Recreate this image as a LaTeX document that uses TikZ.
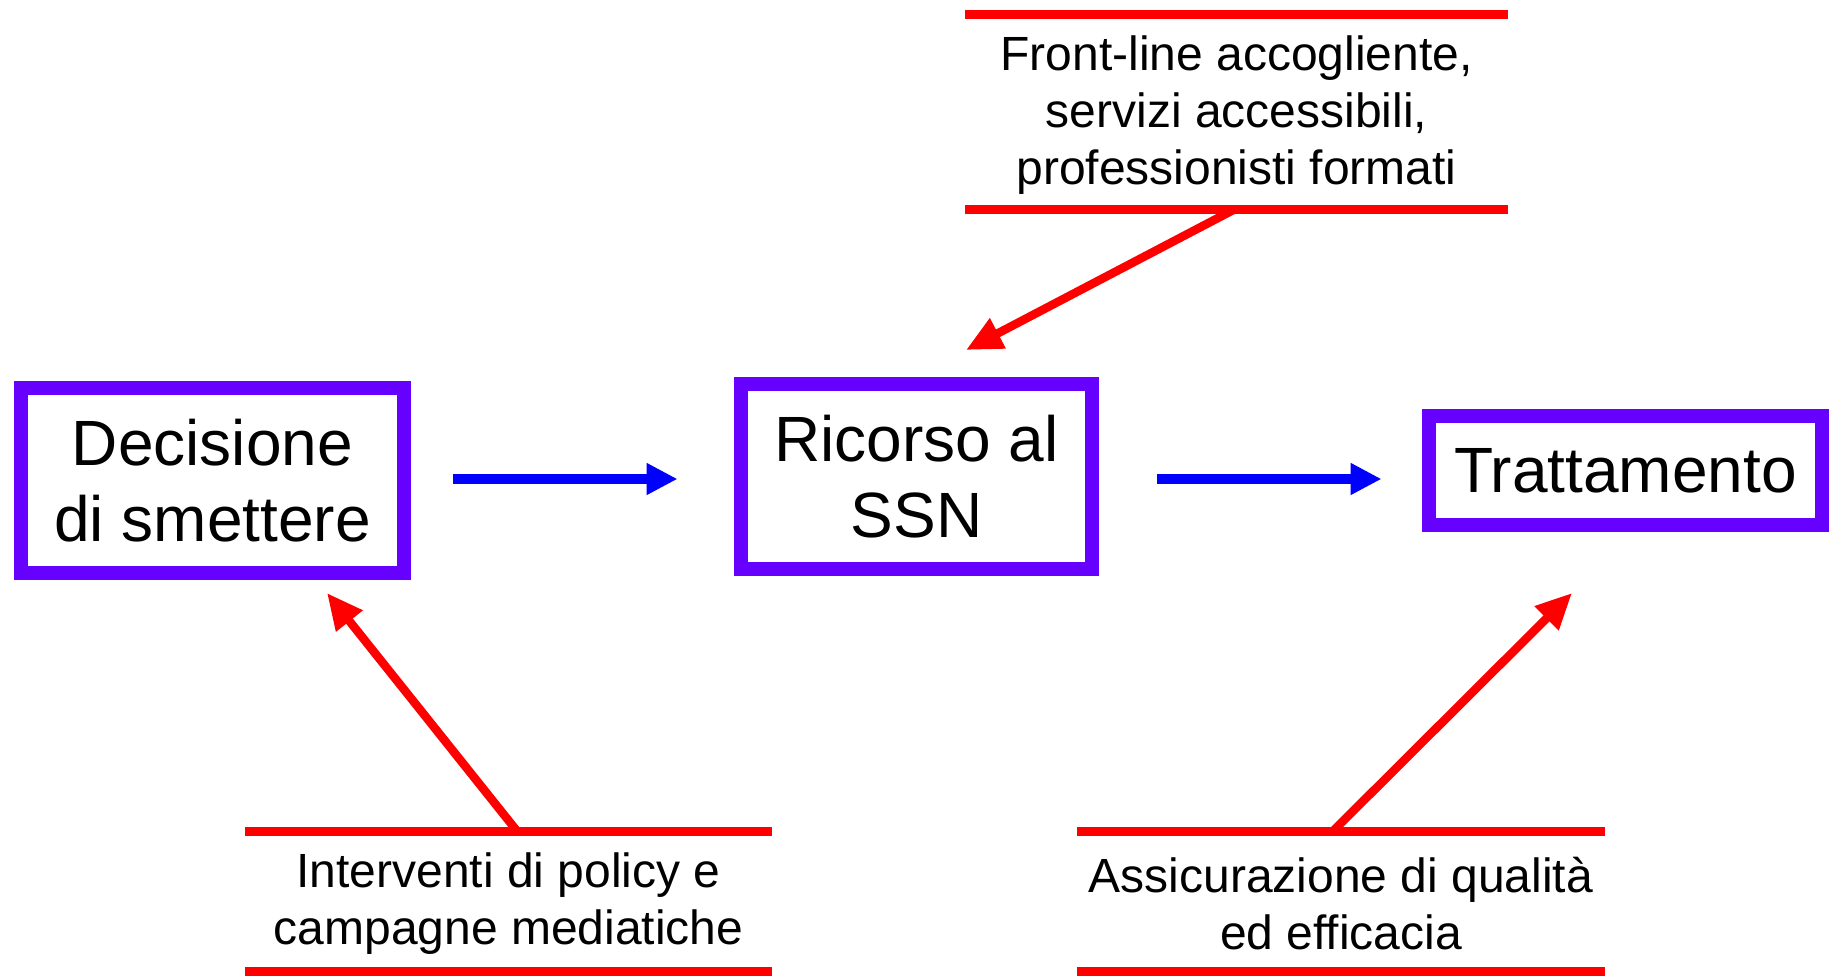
\documentclass[tikz,border=0pt]{standalone}
\usepackage{fontspec}
\setmainfont{Liberation Sans}
\usetikzlibrary{arrows.meta,calc}
\definecolor{boxviolet}{RGB}{102,0,255}
\definecolor{flowblue}{RGB}{0,0,255}
\definecolor{noteRed}{RGB}{255,0,0}

\begin{document}
\begin{tikzpicture}[x=1pt,y=-1pt,
  stage/.style={draw=boxviolet, line width=14pt, fill=white, inner sep=0pt,
    outer sep=0pt, align=center, font=\fontsize{64}{76}\selectfont},
  note/.style={inner sep=0pt, outer sep=0pt, align=center,
    font=\fontsize{48}{57}\selectfont},
  rule/.style={draw=noteRed, line width=9pt},
  flow/.style={draw=flowblue, line width=10pt, -{Triangle[length=31pt,width=30pt]}},
  push/.style={draw=noteRed, line width=8.5pt, -{Triangle[length=36pt,width=32pt]}}]
\useasboundingbox (0,0) rectangle (1829,976);

% the three stages
\node[stage, minimum width=383pt, minimum height=185pt] (b1) at (212.5,480.5)
  {Decisione\\di smettere};
\node[stage, minimum width=351pt, minimum height=185pt] (b2) at (916.5,476.5)
  {Ricorso al\\SSN};
\node[stage, minimum width=393pt, minimum height=109pt] (b3) at (1625.5,470.5)
  {Trattamento};

% flow between stages, all on one level
\coordinate (lvl) at (0,479);
\draw[flow, shorten <=48.5pt, shorten >=63.5pt] (b1.east |- lvl) -- (b2.west |- lvl);
\draw[flow, shorten <=64.5pt, shorten >=47.5pt] (b2.east |- lvl) -- (b3.west |- lvl);

% interventions, each framed by two rules
\node[note, minimum width=543pt, minimum height=195pt] (fl) at (1236.5,112.5) {};
\node[note] (fltext) at ($(fl.center)+(0,3)$)
  {Front-line accogliente,\\servizi accessibili,\\professionisti formati};
\node[note, minimum width=527pt, minimum height=140pt] (pol) at (508.5,901) {};
\node[note] (poltext) at ($(pol.center)+(0,3)$)
  {Interventi di policy e\\campagne mediatiche};
\node[note, minimum width=528pt, minimum height=140pt] (qa) at (1341,901) {};
\node[note] (qatext) at ($(qa.center)+(0,3)$)
  {Assicurazione di qualità\\ed efficacia};

\foreach \n in {fl,pol,qa}{
  \draw[rule] (\n.north west) -- (\n.north east);
  \draw[rule] (\n.south west) -- (\n.south east);
}

% where each intervention acts
\coordinate (t2) at (966,350);
\coordinate (t1) at (327,593);
\coordinate (t3) at (1572,593);

\draw[push] ($(fl.south west)!0.494!(fl.south east)$) -- (t2);
\draw[push] ($(pol.north west)!0.516!(pol.north east)$) -- (t1);
\draw[push] ($(qa.north west)!0.485!(qa.north east)$) -- (t3);
\end{tikzpicture}
\end{document}
